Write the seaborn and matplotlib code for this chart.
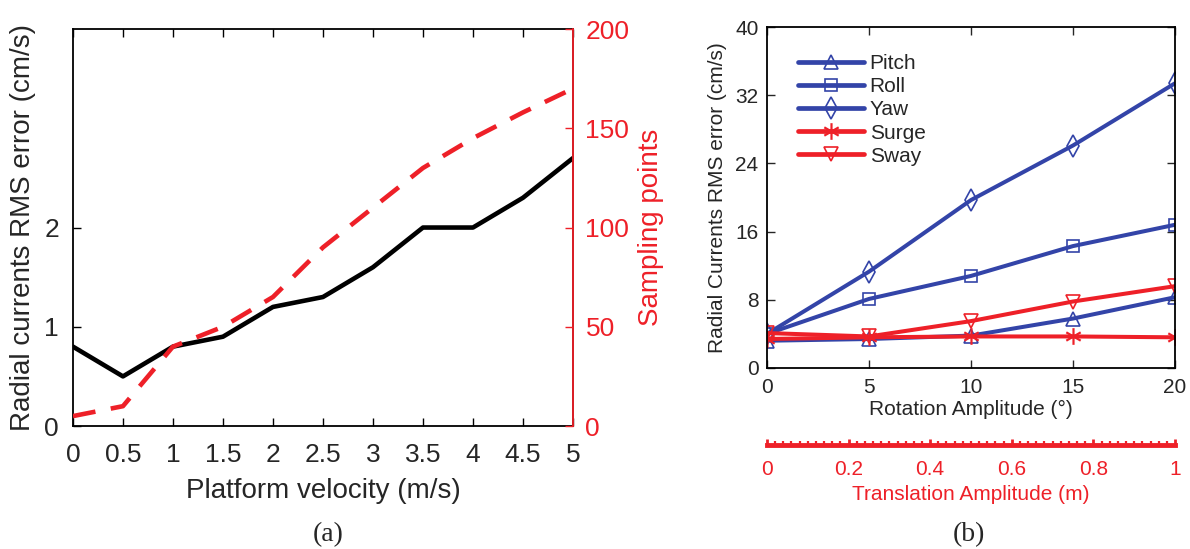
import numpy as np
import pandas as pd
import matplotlib
matplotlib.use("Agg")
import matplotlib.pyplot as plt
import seaborn as sns
from matplotlib.ticker import MultipleLocator

sns.set_style("ticks")
plt.rcParams["font.family"] = ["Liberation Sans", "DejaVu Sans"]

# ---- panel (a) data ----
velocity = [0, 0.5, 1, 1.5, 2, 2.5, 3, 3.5, 4, 4.5, 5]
rms_error = [0.8, 0.5, 0.8, 0.9, 1.2, 1.3, 1.6, 2.0, 2.0, 2.3, 2.7]
sampling_points = [5, 10, 40, 50, 65, 90, 110, 130, 145, 158, 170]

# ---- panel (b) data ----
rotation_amp = [0, 5, 10, 15, 20]
pitch = [3.2, 3.4, 3.8, 5.8, 8.3]
roll = [4.0, 8.1, 10.8, 14.3, 16.8]
yaw = [4.0, 11.3, 19.7, 26.1, 33.4]
surge = [3.4, 3.6, 3.7, 3.7, 3.6]
sway = [4.1, 3.7, 5.5, 7.8, 9.6]
translation_ticks = [0, 0.2, 0.4, 0.6, 0.8, 1]

BLUE = "#3344a8"
RED = "#ee2028"

fig = plt.figure(figsize=(11.9, 5.49), dpi=100)

# ================= panel (a) =================
ax1 = fig.add_axes([0.0613, 0.224, 0.4202, 0.7231])
df_a = pd.DataFrame({"v": velocity, "err": rms_error, "pts": sampling_points})
sns.lineplot(data=df_a, x="v", y="err", ax=ax1, color="black", linewidth=3.3)
ax1.set_xlim(0, 5)
ax1.set_ylim(0, 4)
ax1.set_xticks(np.arange(0, 5.01, 0.5))
ax1.set_xticklabels(["0", "0.5", "1", "1.5", "2", "2.5", "3", "3.5", "4", "4.5", "5"])
ax1.set_yticks([0, 1, 2])
ax1.tick_params(axis="both", direction="in", labelsize=19, length=6, width=1,
                top=True, color="black")
ax1.tick_params(axis="x", pad=12)
ax1.tick_params(axis="y", pad=10)
ax1.set_xlabel("Platform velocity (m/s)", fontsize=20, labelpad=8)
ax1.set_ylabel("Radial currents RMS error (cm/s)", fontsize=20, labelpad=6)
for s in ax1.spines.values():
    s.set_linewidth(1.3)
    s.set_color("black")

ax2 = ax1.twinx()
sns.lineplot(data=df_a, x="v", y="pts", ax=ax2, color=RED, linewidth=3.3)
ax2.lines[0].set_dashes([5, 3.4])
ax2.set_ylim(0, 200)
ax2.set_yticks([0, 50, 100, 150, 200])
ax2.tick_params(axis="y", direction="in", labelsize=19, length=6, width=1,
                colors=RED, pad=9)
ax2.set_ylabel("Sampling points", fontsize=20, color=RED, labelpad=6)
ax2.spines["right"].set_color(RED)
ax2.spines["right"].set_linewidth(1.3)
ax2.spines["left"].set_visible(False)
ax2.spines["top"].set_visible(False)
ax2.spines["bottom"].set_visible(False)

# ================= panel (b) =================
ax3 = fig.add_axes([0.6445, 0.3297, 0.3429, 0.6211])
series = [("Pitch", pitch, BLUE, "^", 10), ("Roll", roll, BLUE, "s", 8),
          ("Yaw", yaw, BLUE, "d", 11), ("Surge", surge, RED, "$\u2217$", 12),
          ("Sway", sway, RED, "v", 10)]
for name, vals, col, mk, ms in series:
    df_b = pd.DataFrame({"amp": rotation_amp, "err": vals})
    if mk.startswith("$"):
        sns.lineplot(data=df_b, x="amp", y="err", ax=ax3, color=col, linewidth=2.9,
                     marker=mk, markersize=ms, markeredgewidth=0,
                     markeredgecolor=col, markerfacecolor=col, label=name)
    else:
        sns.lineplot(data=df_b, x="amp", y="err", ax=ax3, color=col, linewidth=2.9,
                     marker=mk, markersize=ms, markerfacecolor="none",
                     markeredgecolor=col, markeredgewidth=1.2, label=name)
ax3.set_xlim(0, 20)
ax3.set_ylim(0, 40)
ax3.set_xticks([0, 5, 10, 15, 20])
ax3.set_yticks([0, 8, 16, 24, 32, 40])
ax3.tick_params(axis="both", direction="in", labelsize=15, length=6, width=1,
                top=True, right=True)
ax3.tick_params(axis="x", pad=7)
ax3.tick_params(axis="y", pad=6)
ax3.set_xlabel("Rotation Amplitude (\u00b0)", fontsize=15, labelpad=2)
ax3.set_ylabel("Radial Currents RMS error (cm/s)", fontsize=15, labelpad=6)
for s in ax3.spines.values():
    s.set_linewidth(1.3)
    s.set_color("black")
leg = ax3.legend(loc="upper left", bbox_to_anchor=(0.055, 0.945), frameon=False,
                 fontsize=15, handlelength=3.2, handletextpad=0.25,
                 labelspacing=0.2, borderaxespad=0.0)
for h in leg.legend_handles:
    h.set_linewidth(3.4)

# secondary translation-amplitude axis
ax4 = fig.add_axes([0.6445, 0.1894, 0.3429, 0.001])
ax4.set_xlim(0, 1)
ax4.set_yticks([])
for side in ["top", "left", "right"]:
    ax4.spines[side].set_visible(False)
ax4.spines["bottom"].set_color(RED)
ax4.spines["bottom"].set_linewidth(3.5)
ax4.set_xticks(translation_ticks)
ax4.set_xticklabels(["0", "0.2", "0.4", "0.6", "0.8", "1"])
ax4.xaxis.set_minor_locator(MultipleLocator(0.02))
ax4.tick_params(axis="x", which="major", direction="in", length=4.4, width=2.0,
                colors=RED, labelsize=15, pad=11)
ax4.tick_params(axis="x", which="minor", direction="in", length=3.0, width=1.6,
                colors=RED)
ax4.set_xlabel("Translation Amplitude (m)", fontsize=15, color=RED, labelpad=4)
ax4.patch.set_visible(False)

# captions
fig.text(0.2755, 0.026, "(a)", fontsize=20, family="Liberation Serif", ha="center", va="center")
fig.text(0.8143, 0.026, "(b)", fontsize=20, family="Liberation Serif", ha="center", va="center")

fig.savefig("out.png", dpi=100)
